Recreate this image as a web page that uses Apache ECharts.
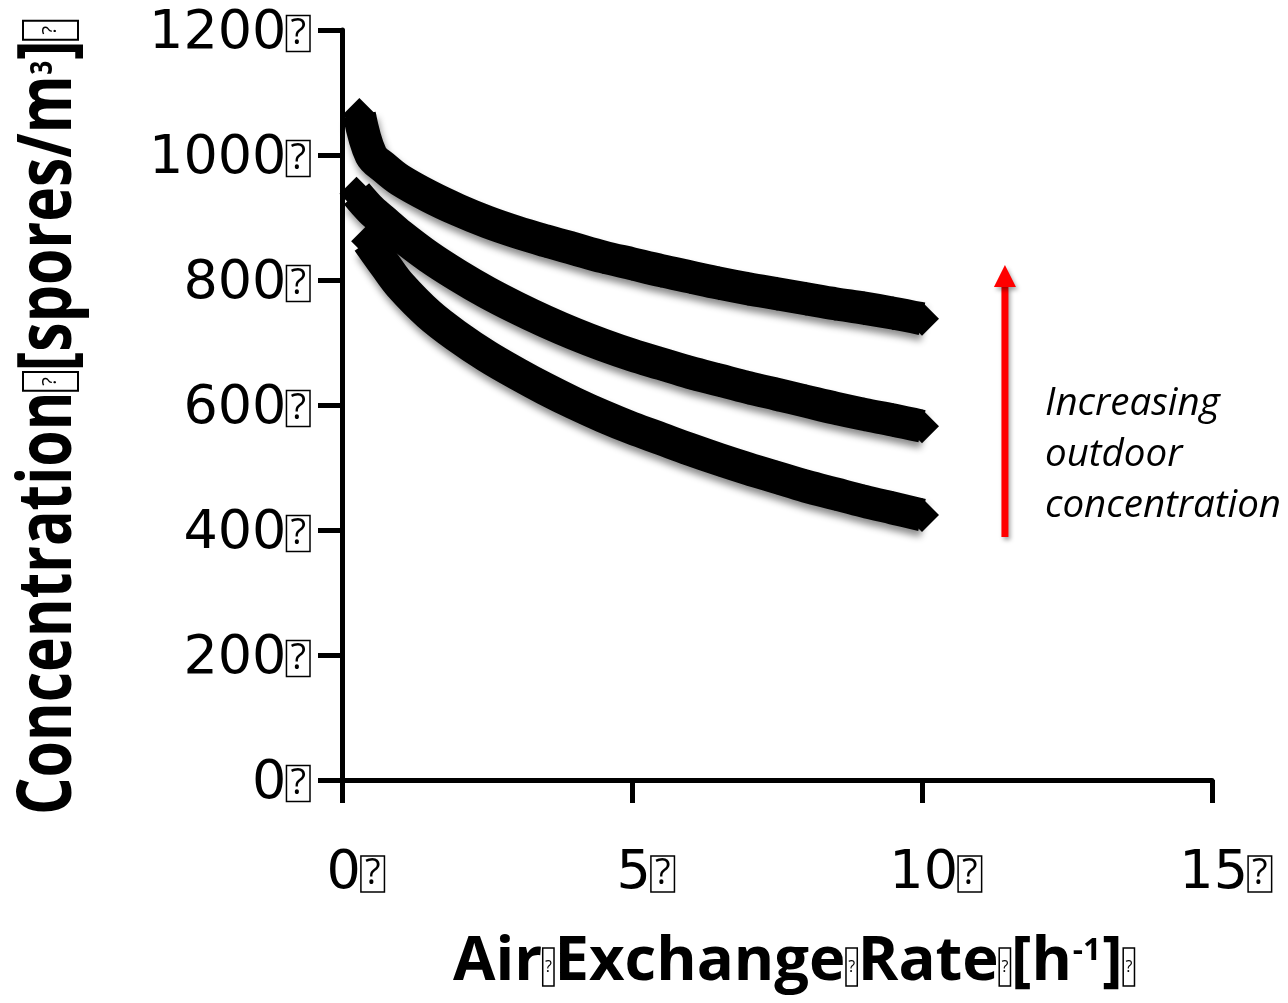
<!DOCTYPE html>
<html><head><meta charset="utf-8">
<script src="https://cdn.jsdelivr.net/npm/echarts@6/dist/echarts.min.js"></script>
<style>html,body{margin:0;padding:0;background:#fff}#c{width:1288px;height:1003px}</style>
</head><body><div id="c"></div>
<script>
// ---- data ----
const xTicks = [0, 5, 10, 15];
const yTicks = [0, 200, 400, 600, 800, 1000, 1200];

const xHigh = [0.3, 0.5, 0.75, 1, 1.5, 2, 2.5, 3, 3.5, 4, 4.5, 5, 5.5, 6, 6.5, 7, 7.5, 8, 8.5, 9, 9.5, 10];
const yHigh = [1064, 1000, 978, 960, 934, 912, 893, 877, 863, 850, 837, 826, 815, 805, 795, 786, 778, 770, 762, 755, 747, 738];

const xMid = [0.25, 0.5, 0.75, 1, 1.5, 2, 2.5, 3, 3.5, 4, 4.5, 5, 5.5, 6, 6.5, 7, 7.5, 8, 8.5, 9, 9.5, 10];
const yMid = [938, 912, 892, 872, 837, 807, 780, 756, 734, 714, 696, 680, 666, 652, 640, 628, 617, 606, 595, 585, 576, 566];

const xLow = [0.45, 0.75, 1, 1.5, 2, 2.5, 3, 3.5, 4, 4.5, 5, 5.5, 6, 6.5, 7, 7.5, 8, 8.5, 9, 9.5, 10];
const yLow = [862, 823, 792, 745, 709, 678, 651, 626, 603, 582, 563, 546, 529, 513, 498, 484, 470, 458, 446, 435, 424];

const xTitle = 'Air{q|?}Exchange{q|?}Rate{q|?}[h{sup|-1}]{q|?}';
const yTitle = 'Concentration{q|?}[spores/m{sup|3}]{q|?}';
const noteLines = ['Increasing', 'outdoor', 'concentration'];
const arrowX = 11.43, arrowFrom = 389, arrowTo = 824;

// ---- chart ----
const FONT = '"Open Sans", "Noto Sans", sans-serif';
const DIGITS = '"DejaVu Sans", sans-serif';
const zip = (xs, ys) => xs.map((x, i) => [x, ys[i]]);

const tickBox = {fontFamily: FONT, fontSize: 36, color: '#000', borderColor: '#000', borderWidth: 1.5,
  padding: [0, 4, 0, 4], verticalAlign: 'middle'};

function band(name, data) {
  return {
    name, type: 'line', data, smooth: 0.35,
    symbol: 'diamond', symbolSize: 34, showSymbol: true,
    itemStyle: {color: '#000'},
    lineStyle: {color: '#000', width: 33, join: 'round',
      shadowColor: 'rgba(0,0,0,0.45)', shadowBlur: 7, shadowOffsetX: 2, shadowOffsetY: 6},
    emphasis: {disabled: true}, animation: false
  };
}

// measured title layout: text runs, tofu boxes and superscripts placed side by side
const measureCtx = document.createElement('canvas').getContext('2d');
function textW(str, font) { measureCtx.font = font; return measureCtx.measureText(str).width; }
function buildTitle(markup, c) {
  const parts = markup.split(/(\{q\|\?\}|\{sup\|[^}]*\})/).filter(s => s.length);
  const kids = [];
  let cur = 0;
  parts.forEach(p => {
    if (p === '{q|?}') {
      const x0 = cur + c.boxPad, x1 = x0 + c.boxW;
      kids.push({type: 'polygon',
        shape: {points: [[x0, c.boxTop], [x1, c.boxTop], [x1, c.boxBot], [x0, c.boxBot]]},
        style: {fill: 'rgba(0,0,0,0)', stroke: '#000', lineWidth: c.boxLW}});
      kids.push({type: 'text', x: x0 + c.boxW / 2, y: (c.boxTop + c.boxBot) / 2,
        style: {text: '?', font: c.qFont, fill: '#000', align: 'center', verticalAlign: 'middle'}});
      cur += c.boxW + 2 * c.boxPad;
    } else if (p.indexOf('{sup|') === 0) {
      const s = p.slice(5, -1);
      kids.push({type: 'text', x: cur + 1, y: c.supY,
        style: {text: s, font: c.supFont, fill: '#000', align: 'left', verticalAlign: 'middle'}});
      cur += textW(s, c.supFont) + 2;
    } else {
      kids.push({type: 'text', x: cur, y: 0,
        style: {text: p, font: c.font, fill: '#000', align: 'left', verticalAlign: 'middle'}});
      cur += textW(p, c.font);
    }
  });
  const s = c.target / cur;
  const cos = Math.cos(c.rotation || 0), sin = Math.sin(c.rotation || 0);
  const map = (lx, ly) => { const sx = (lx - cur / 2) * s; return [c.cx + sx * cos + ly * sin, c.cy - sx * sin + ly * cos]; };
  kids.forEach(k => {
    if (k.type === 'polygon') {
      k.shape.points = k.shape.points.map(p => map(p[0], p[1]));
    } else {
      const pt = map(k.x, k.y);
      k.x = pt[0]; k.y = pt[1];
      k.rotation = c.rotation || 0; k.scaleX = s; k.scaleY = 1;
      if (k.style.text === '?') k.scaleX = 1;
    }
  });
  return kids;
}

const chart = echarts.init(document.getElementById('c'), null, {renderer: 'canvas'});
chart.setOption({
  animation: false,
  backgroundColor: '#fff',
  grid: {left: 342, right: 76, top: 30, bottom: 223, containLabel: false},
  xAxis: {
    type: 'value', min: xTicks[0], max: xTicks[xTicks.length - 1], interval: xTicks[1] - xTicks[0],
    axisLine: {lineStyle: {color: '#000', width: 5}},
    axisTick: {length: 23, lineStyle: {color: '#000', width: 5}},
    splitLine: {show: false},
    axisLabel: {margin: 73, color: '#000', fontFamily: DIGITS, fontSize: 54, lineHeight: 42,
      padding: [0, 0, 0, 27], formatter: v => v + '{q|?}', rich: {q: tickBox}}
  },
  yAxis: {
    type: 'value', min: yTicks[0], max: yTicks[yTicks.length - 1], interval: yTicks[1] - yTicks[0],
    axisLine: {lineStyle: {color: '#000', width: 5}},
    axisTick: {length: 24, lineStyle: {color: '#000', width: 5}},
    splitLine: {show: false},
    axisLabel: {margin: 32, color: '#000', fontFamily: DIGITS, fontSize: 54, lineHeight: 42,
      padding: [7, 0, 0, 0], formatter: v => v + '{q|?}', rich: {q: tickBox}}
  },
  series: [
    band('high', zip(xHigh, yHigh)),
    band('mid', zip(xMid, yMid)),
    band('low', zip(xLow, yLow))
  ]
});

const p0 = chart.convertToPixel({gridIndex: 0}, [arrowX, arrowFrom]);
const p1 = chart.convertToPixel({gridIndex: 0}, [arrowX, arrowTo]);
const headLen = 22, headW = 22, shaftW = 7;
const shadow = {shadowColor: 'rgba(0,0,0,0.35)', shadowBlur: 4, shadowOffsetX: 2, shadowOffsetY: 3};

const yTitleEls = buildTitle(yTitle, {
  cx: 50, cy: 417.5, rotation: Math.PI / 2, target: 795,
  font: 'bold 75px ' + FONT, supFont: 'bold 31px ' + FONT, supY: -7,
  qFont: '20px ' + FONT, boxW: 24, boxPad: 1, boxTop: -27, boxBot: 28, boxLW: 2
});
const xTitleEls = buildTitle(xTitle, {
  cx: 794, cy: 963, rotation: 0, target: 682,
  font: 'bold 60px ' + FONT, supFont: 'bold 31px ' + FONT, supY: -12,
  qFont: '16px ' + FONT, boxW: 11, boxPad: 0.5, boxTop: -15, boxBot: 23, boxLW: 1.5
});

chart.setOption({
  graphic: yTitleEls.concat(xTitleEls).concat([
    {type: 'rect', shape: {x: p0[0] - shaftW / 2, y: p1[1] + headLen - 2, width: shaftW, height: p0[1] - p1[1] - headLen + 2},
      style: Object.assign({fill: '#ff0000'}, shadow)},
    {type: 'polygon', shape: {points: [[p1[0], p1[1]], [p1[0] - headW / 2, p1[1] + headLen], [p1[0] + headW / 2, p1[1] + headLen]]},
      style: Object.assign({fill: '#ff0000'}, shadow)},
    {type: 'text', x: 1045, y: 455,
      style: {text: noteLines.join('\n'), fontFamily: FONT, fontStyle: 'italic', fontSize: 38.5, lineHeight: 51,
        fill: '#000', align: 'left', verticalAlign: 'middle'}}
  ])
});
</script>
</body></html>
